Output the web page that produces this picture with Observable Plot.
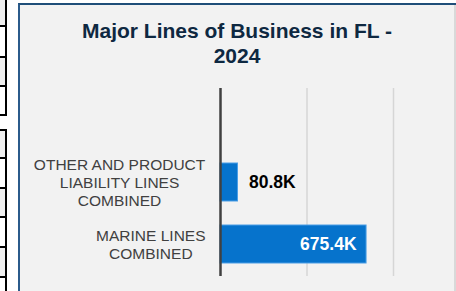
<!DOCTYPE html>
<html>
<head>
<meta charset="utf-8">
<script src="https://cdn.jsdelivr.net/npm/d3@7"></script>
<script src="https://cdn.jsdelivr.net/npm/@observablehq/plot@0.6"></script>
<style>
  html, body { margin: 0; padding: 0; }
  body { width: 456px; height: 291px; position: relative; overflow: hidden; background: #ffffff; font-family: "Liberation Sans", Arial, sans-serif; }
  .abs { position: absolute; }
  .vline { position: absolute; left: 5px; width: 2px; background: #000; }
  .hline { position: absolute; left: 0; width: 7px; height: 2px; background: #000; }
  .cell { position: absolute; left: 0; width: 5px; background: #efefef; }
  #panel { position: absolute; left: 18px; top: 3px; width: 460px; height: 300px; background: #f2f2f2; border-left: 2px solid #2b5b8b; border-top: 2px solid #1f4e79; box-sizing: border-box; }
  #edge { position: absolute; left: 454px; top: 5px; width: 2px; height: 286px; background: #d9d9d9; }
  #title { position: absolute; left: 67px; top: 18px; width: 340px; text-align: center; font-size: 21px; line-height: 25px; font-weight: bold; color: #0e2841; }
  #chart { position: absolute; left: 20px; top: 78px; }
</style>
</head>
<body>
<div class="cell" style="top:0;height:26px"></div>
<div class="cell" style="top:58px;height:28px"></div>
<div class="cell" style="top:130px;height:28px"></div>
<div class="cell" style="top:189px;height:28px"></div>
<div class="cell" style="top:248px;height:29px"></div>
<div class="vline" style="top:0;height:116px"></div>
<div class="vline" style="top:129px;height:162px"></div>
<div class="hline" style="top:25px"></div>
<div class="hline" style="top:56px"></div>
<div class="hline" style="top:85px"></div>
<div class="hline" style="top:114px"></div>
<div class="hline" style="top:129px"></div>
<div class="hline" style="top:157px"></div>
<div class="hline" style="top:187px"></div>
<div class="hline" style="top:216px"></div>
<div class="hline" style="top:246px"></div>
<div class="hline" style="top:276px"></div>
<div id="panel"></div>
<div id="edge"></div>
<div id="title">Major Lines of Business in FL - 2024</div>
<div id="chart"></div>
<script>
const categories = ["OTHER AND PRODUCT\nLIABILITY LINES\nCOMBINED", "MARINE LINES\nCOMBINED"];
const values = [80800, 675400];
const gridTicks = [400000, 800000];
const xDomain = [0, 800000];

const data = categories.map((c, i) => ({category: c, value: values[i]}));
const fmt = v => (v / 1000).toFixed(1) + "K";
const insideThreshold = 400000;

const font = "'Liberation Sans', Arial, sans-serif";

const plot = Plot.plot({
  width: 436,
  height: 200,
  marginLeft: 200,
  marginRight: 63,
  marginTop: 10,
  marginBottom: 2,
  style: {background: "transparent", fontFamily: font, overflow: "visible"},
  x: {domain: xDomain, axis: null},
  y: {domain: categories, range: [72.7, 198], paddingInner: 0.39, paddingOuter: 0.195, axis: null},
  marks: [
    Plot.ruleX(gridTicks, {stroke: "#d6d6d6", strokeWidth: 1.5}),
    Plot.barX(data, {x: "value", y: "category", fill: "#0673cc", stroke: "#4a9ee6", strokeWidth: 1}),
    Plot.ruleX([0], {stroke: "#404040", strokeWidth: 2.5}),
    Plot.text(data, {x: 0, y: "category", text: "category", textAnchor: "end", lineAnchor: "middle", dx: -15, lineHeight: 1.17, fontSize: 15.5, fill: "#404040", className: "cat-label"}),
    Plot.text(data.filter(d => d.value < insideThreshold), {x: "value", y: "category", text: d => fmt(d.value), textAnchor: "start", dx: 11, fontSize: 17.5, fontWeight: "bold", fill: "#000000"}),
    Plot.text(data.filter(d => d.value >= insideThreshold), {x: "value", y: "category", text: d => fmt(d.value), textAnchor: "end", dx: -10, fontSize: 17.5, fontWeight: "bold", fill: "#ffffff"})
  ]
});
document.getElementById("chart").appendChild(plot);

// center each multi-line category label on its own widest line (right edge stays put)
plot.querySelectorAll(".cat-label text").forEach(t => {
  const w = t.getBBox().width;
  t.setAttribute("text-anchor", "middle");
  const tr = t.getAttribute("transform") || "";
  t.setAttribute("transform", tr + ` translate(${-w / 2},0)`);
});
</script>
</body>
</html>
